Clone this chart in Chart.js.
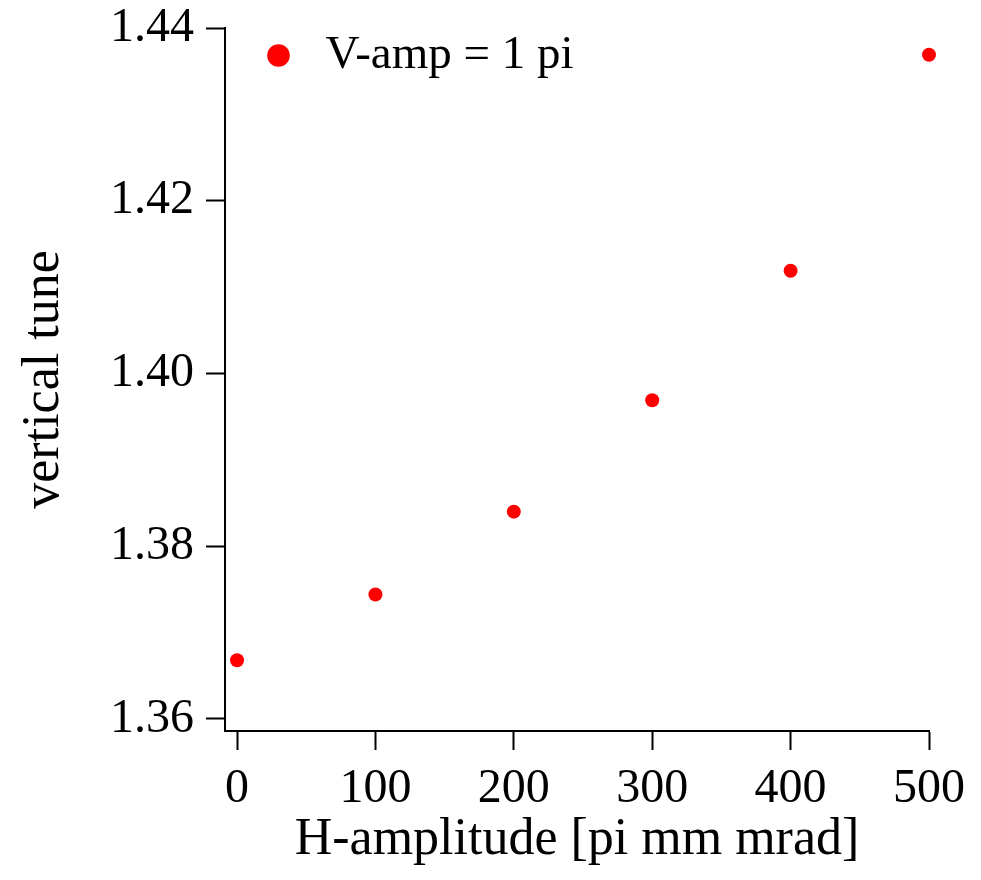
<!DOCTYPE html>
<html>
<head>
<meta charset="utf-8">
<script src="https://cdn.jsdelivr.net/npm/chart.js@4"></script>
<style>
  body { margin: 0; background: #fff; }
  #wrap { width: 981px; height: 880px; }
</style>
</head>
<body>
<div id="wrap"><canvas id="chart" width="981" height="880"></canvas></div>
<script>
// values
const hAmplitude = [0, 100, 200, 300, 400, 500];
const verticalTune = [1.3668, 1.3744, 1.3840, 1.3969, 1.4119, 1.4369];
const xTicks = [0, 100, 200, 300, 400, 500];
const yTicks = [1.36, 1.38, 1.40, 1.42, 1.44];

const serif = "'Liberation Serif', 'Times New Roman', serif";

// move the legend off the left axis, a bit down into the plot
const legendShift = {
  id: "legendShift",
  afterLayout(chart) {
    const lg = chart.legend;
    if (lg) {
      lg.left += 26;
      lg.top += 28;
      lg.bottom += 28;
    }
  },
};

const ctx = document.getElementById("chart").getContext("2d");
new Chart(ctx, {
  type: "scatter",
  data: {
    datasets: [
      {
        label: "V-amp = 1 pi",
        data: hAmplitude.map((x, i) => ({ x: x, y: verticalTune[i] })),
        backgroundColor: "#ff0000",
        borderColor: "#ff0000",
        borderWidth: 0,
        pointRadius: 7,
        pointHoverRadius: 7,
        clip: false,
      },
    ],
  },
  options: {
    responsive: false,
    animation: false,
    devicePixelRatio: 1,
    layout: {
      padding: { top: 28, right: 52, left: 0, bottom: 0 },
    },
    plugins: {
      tooltip: { enabled: false },
      legend: {
        position: "chartArea",
        align: "start",
        labels: {
          usePointStyle: true,
          pointStyle: "circle",
          boxWidth: 47,
          boxHeight: 16,
          padding: 4,
          color: "#000",
          font: { family: serif, size: 47 },
        },
      },
    },
    scales: {
      x: {
        type: "linear",
        min: -8.7,
        max: 500,
        afterFit(scale) {
          scale.height = 149;
          scale.paddingLeft = 0;
          scale.paddingRight = 0;
        },
        afterBuildTicks(scale) {
          scale.ticks = xTicks.map((v) => ({ value: v }));
        },
        grid: {
          drawOnChartArea: false,
          drawTicks: true,
          tickLength: 19,
          tickColor: "#000",
          tickWidth: 2,
        },
        border: { display: true, color: "#000", width: 2 },
        ticks: {
          color: "#000",
          padding: 11,
          maxRotation: 0,
          font: { family: serif, size: 48 },
        },
        title: {
          display: true,
          text: "H-amplitude [pi mm mrad]",
          color: "#000",
          padding: { top: 0, bottom: 8 },
          font: { family: serif, size: 52 },
        },
      },
      y: {
        type: "linear",
        min: 1.3586,
        max: 1.44,
        afterFit(scale) {
          scale.width = 225;
          scale.paddingTop = 0;
          scale.paddingBottom = 0;
        },
        afterBuildTicks(scale) {
          scale.ticks = yTicks.map((v) => ({ value: v }));
        },
        grid: {
          drawOnChartArea: false,
          drawTicks: true,
          tickLength: 19,
          tickColor: "#000",
          tickWidth: 2,
        },
        border: { display: true, color: "#000", width: 2 },
        ticks: {
          color: "#000",
          padding: 12,
          font: { family: serif, size: 48 },
          callback: (value) => Number(value).toFixed(2),
        },
        title: {
          display: true,
          text: "vertical tune",
          color: "#000",
          padding: { top: 13, bottom: 0 },
          font: { family: serif, size: 52 },
        },
      },
    },
  },
  plugins: [legendShift],
});
</script>
</body>
</html>
